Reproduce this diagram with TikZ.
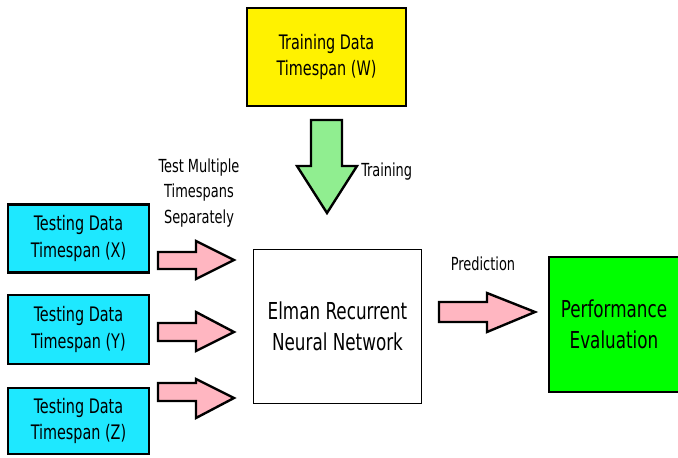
\documentclass[tikz,border=0pt]{standalone}
\usepackage{fontspec}
\setmainfont{DejaVu Sans Condensed}[FakeStretch=0.8]
\usepackage{xcolor}

\definecolor{boxcyan}{RGB}{30,232,255}
\definecolor{arrowpink}{RGB}{255,182,193}
\definecolor{arrowgreen}{RGB}{144,238,144}

\begin{document}
\begin{tikzpicture}[x=0.75pt,y=0.75pt,yscale=-1,xscale=1,
  databox/.style={draw=black,line width=2.2pt,align=center,inner sep=0.75pt,font=\fontsize{15}{20}\selectfont},
  bigbox/.style={draw=black,align=center,inner sep=0.75pt,font=\fontsize{17.5}{23.5}\selectfont},
  fatarrow/.style={draw=black,line width=1.8pt,line join=miter},
  lbl/.style={inner sep=0.75pt,align=center,font=\fontsize{13.5}{19}\selectfont}]
\useasboundingbox (0,0) rectangle (678,457);

%Shape: Rectangle [Training Data]
\node (train) [databox,fill=yellow,minimum width=159pt*0.75,minimum height=98pt*0.75] at (326.5,57) {Training Data\\Timespan (W)};
%Shape: Rectangle [Testing Data X]
\node (testX) [databox,fill=boxcyan,minimum width=141pt*0.75,minimum height=68pt*0.75] at (78.5,238.5) {Testing Data\\Timespan (X)};
%Shape: Rectangle [Testing Data Y]
\node (testY) [databox,fill=boxcyan,minimum width=141pt*0.75,minimum height=69pt*0.75] at (78.5,329.5) {Testing Data\\Timespan (Y)};
%Shape: Rectangle [Testing Data Z]
\node (testZ) [databox,fill=boxcyan,minimum width=141pt*0.75,minimum height=66pt*0.75] at (78.5,421) {Testing Data\\Timespan (Z)};
%Shape: Rectangle [Elman]
\node (elman) [bigbox,line width=1.2pt,minimum width=168pt*0.75,minimum height=154pt*0.75] at (337.5,326.5) {Elman Recurrent\\Neural Network};
%Shape: Rectangle [Performance]
\node (perf) [bigbox,line width=2.2pt,fill=green,minimum width=134pt*0.75,minimum height=135pt*0.75] at (616,324.5) {};
\node (perftext) [bigbox,draw=none] at (614,324.5) {Performance\\Evaluation};

%Shape: Down Arrow [Training]
\draw [fatarrow,fill=arrowgreen] (311,120) -- (342,120) -- (342,166) -- (357,166) -- (327,213) -- (297,166) -- (311,166) -- cycle ;
%Shape: Right Arrow [X]
\draw [fatarrow,fill=arrowpink] (158,252) -- (196,252) -- (196,241) -- (234,260) -- (196,279) -- (196,269) -- (158,269) -- cycle ;
%Shape: Right Arrow [Y]
\draw [fatarrow,fill=arrowpink] (158,323) -- (196,323) -- (196,312) -- (234,332) -- (196,351) -- (196,341) -- (158,341) -- cycle ;
%Shape: Right Arrow [Z]
\draw [fatarrow,fill=arrowpink] (158,383) -- (196,383) -- (196,379) -- (234,398) -- (196,418) -- (196,401) -- (158,401) -- cycle ;
%Shape: Right Arrow [Prediction]
\draw [fatarrow,fill=arrowpink] (439,302) -- (487,302) -- (487,293) -- (535,312) -- (487,332) -- (487,322) -- (439,322) -- cycle ;

% Text Node
\node (trainlbl) [lbl,anchor=west] at (360,172) {Training};
% Text Node
\node (testlbl) [lbl] at (199,193) {Test Multiple\\Timespans\\Separately};
% Text Node
\node (predlbl) [lbl] at (483,264) {Prediction};

\end{tikzpicture}
\end{document}
